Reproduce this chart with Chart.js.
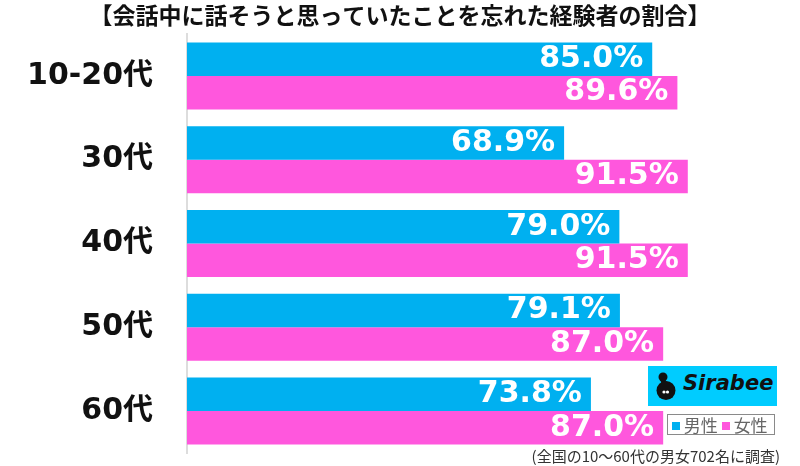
<!DOCTYPE html>
<html><head><meta charset="utf-8">
<script src="https://cdn.jsdelivr.net/npm/chart.js@4/dist/chart.umd.min.js"></script>
<style>
html,body{margin:0;padding:0;background:#fff;}
#wrap{position:relative;width:800px;height:466px;overflow:hidden;}
canvas{position:absolute;left:0;top:0;}
.legend{position:absolute;left:667px;top:414px;width:106px;height:19px;border:1px solid #8a8a8a;background:#fff;font-family:"Noto Sans CJK JP","Noto Sans",sans-serif;font-size:17px;color:#666;line-height:19px;white-space:nowrap;}
.legend .sq{display:inline-block;width:8px;height:8px;vertical-align:middle;margin:0 4px 3px 0;}
.logo{position:absolute;left:648px;top:366px;width:129px;height:40px;background:#00CCFF;}
.logo .txt{position:absolute;left:35px;top:5px;font-family:"DejaVu Sans",sans-serif;font-weight:bold;font-style:italic;font-size:21px;color:#111;}
.logo svg{position:absolute;left:7px;top:6px;}
.foot{position:absolute;right:20px;top:446px;font-family:"Noto Sans CJK JP",sans-serif;font-size:15px;color:#333;white-space:nowrap;line-height:20px;}
</style></head>
<body>
<div id="wrap">
<canvas id="c" width="800" height="466"></canvas>
<div class="logo"><svg width="24" height="28" viewBox="0 0 24 28"><circle cx="8" cy="5" r="4.5" fill="#111"/><path d="M8 8 C 6 12, 16 11, 17 16" stroke="#111" stroke-width="4" fill="none"/><circle cx="11" cy="18.5" r="9.5" fill="#111"/><circle cx="9" cy="20" r="1.6" fill="#fff"/><circle cx="12.5" cy="20" r="1.6" fill="#fff"/></svg><div class="txt">Sirabee</div></div>
<div class="legend">&nbsp;<span class="sq" style="background:#00B0F0"></span>男性&nbsp;<span class="sq" style="background:#FF57DD"></span>女性</div>
<div class="foot">(全国の10〜60代の男女702名に調査)</div>
</div>
<script>
const categories = ["10-20代","30代","40代","50代","60代"];
const maleValues = [85.0, 68.9, 79.0, 79.1, 73.8];
const femaleValues = [89.6, 91.5, 91.5, 87.0, 87.0];
const seriesNames = ["男性","女性"];
const titleText = "【会話中に話そうと思っていたことを忘れた経験者の割合】";

const barLabels = {
  id:'barLabels',
  afterDatasetsDraw(chart){
    const ctx = chart.ctx;
    ctx.save();
    ctx.font = 'bold 30px "DejaVu Sans", sans-serif';
    ctx.fillStyle = '#fff';
    ctx.textAlign = 'right';
    ctx.textBaseline = 'middle';
    chart.data.datasets.forEach((ds,i)=>{
      chart.getDatasetMeta(i).data.forEach((bar,j)=>{
        ctx.fillText(ds.data[j].toFixed(1)+'%', bar.x-9, bar.y);
      });
    });
    ctx.restore();
  }
};

new Chart(document.getElementById('c'), {
  type:'bar',
  data:{
    labels:categories,
    datasets:[
      {label:seriesNames[0], data:maleValues, backgroundColor:'#00B0F0', barPercentage:1, categoryPercentage:0.8},
      {label:seriesNames[1], data:femaleValues, backgroundColor:'#FF57DD', barPercentage:1, categoryPercentage:0.8}
    ]
  },
  options:{
    indexAxis:'y',
    responsive:false,
    animation:false,
    layout:{padding:{top:0,bottom:13,left:0,right:0}},
    plugins:{
      legend:{display:false},
      tooltip:{enabled:false},
      title:{display:true, text:titleText, color:'#111',
        font:{family:'"Noto Sans CJK JP", sans-serif', size:23, weight:'bold', lineHeight:1.2},
        padding:{top:1.5,bottom:4.9}}
    },
    scales:{
      x:{display:false, min:0, max:112},
      y:{
        grid:{display:false},
        border:{display:true, color:'#dddddd', width:2},
        ticks:{color:'#111', padding:26, font:{family:'"DejaVu Sans","Noto Sans CJK JP", sans-serif', size:30, weight:'bold'}},
        afterFit(s){ s.width = 187; s.paddingTop = 0; s.paddingBottom = 0; }
      }
    }
  },
  plugins:[barLabels]
});
</script>
</body></html>
